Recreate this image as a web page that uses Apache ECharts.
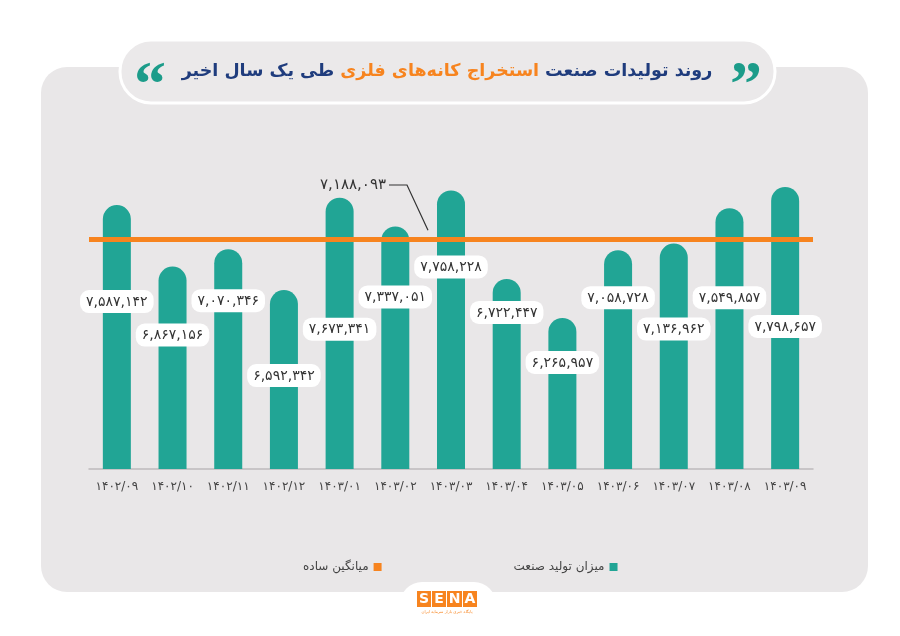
<!DOCTYPE html>
<html><head><meta charset="utf-8">
<script src="https://cdn.jsdelivr.net/npm/echarts@6/dist/echarts.min.js"></script>
<style>html,body{margin:0;padding:0;background:#fff;}#c{width:900px;height:636px;}</style>
</head><body><div id="c"></div>
<script>
const categories = ['۱۴۰۲/۰۹','۱۴۰۲/۱۰','۱۴۰۲/۱۱','۱۴۰۲/۱۲','۱۴۰۳/۰۱','۱۴۰۳/۰۲','۱۴۰۳/۰۳','۱۴۰۳/۰۴','۱۴۰۳/۰۵','۱۴۰۳/۰۶','۱۴۰۳/۰۷','۱۴۰۳/۰۸','۱۴۰۳/۰۹'];
const production = [7587142, 6867156, 7070346, 6592342, 7673341, 7337051, 7758228, 6722447, 6265957, 7058728, 7136962, 7549857, 7798657];
const averageValue = 7188093;
const seriesNames = ['میزان تولید صنعت', 'میانگین ساده'];
const titleParts = ['روند تولیدات صنعت', 'استخراج کانه‌های فلزی', 'طی یک سال اخیر'];

// label layout (style only)
const labelDistance = [85, 57, 40, 74, 120, 59, 65, 22, 33, 36, 74, 78, 128];

const FONT = 'DejaVu Sans';
const TEAL = '#21a595';
const ORANGE = '#f7841f';
const NAVY = '#1f3c7d';
const fa = s => String(s).replace(/\d/g, d => '۰۱۲۳۴۵۶۷۸۹'[d]);
const fmt = v => fa(Number(v).toLocaleString('en-US'));

const chart = echarts.init(document.getElementById('c'));
const option = {
  backgroundColor: '#ffffff',
  animation: false,
  grid: { left: 89, right: 87, top: 127, bottom: 167 },
  xAxis: {
    type: 'category', data: categories,
    axisLine: { lineStyle: { color: '#bdbbbc', width: 1.5 } },
    axisTick: { show: false },
    axisLabel: { color: '#444', fontSize: 12, fontFamily: FONT, margin: 12 }
  },
  yAxis: { type: 'value', min: 4500000, max: 8500000, show: false, splitLine: { show: false } },
  legend: {
    data: [{ name: seriesNames[1] }, { name: seriesNames[0] }],
    left: 298, top: 556, align: 'right', icon: 'rect', itemWidth: 8, itemHeight: 8, itemGap: 132,
    textStyle: { color: '#444', fontSize: 12, fontFamily: FONT }
  },
  series: [
    {
      name: seriesNames[0], type: 'bar', barWidth: 28, z: 3,
      itemStyle: { color: TEAL, borderRadius: [14, 14, 0, 0] },
      data: production.map((v, i) => ({
        value: v,
        label: { distance: labelDistance[i] }
      })),
      label: {
        show: true, position: 'insideTop', formatter: p => fmt(p.value),
        backgroundColor: '#fff', borderRadius: 9, padding: [5, 6, 4, 6],
        color: '#333', fontSize: 14, fontFamily: FONT
      }
    },
    {
      name: seriesNames[1], type: 'line', data: [], z: 4,
      itemStyle: { color: ORANGE }, lineStyle: { color: ORANGE },
      markLine: {
        symbol: 'none', silent: true,
        lineStyle: { color: ORANGE, width: 5, type: 'solid' },
        label: { show: false },
        data: [{ yAxis: averageValue }]
      }
    }
  ]
};
chart.setOption(option);

const lineY = chart.convertToPixel({ yAxisIndex: 0 }, averageValue);
chart.setOption({
  graphic: [
    { type: 'rect', z: -10, shape: { x: 41, y: 67, width: 827, height: 525, r: 26 }, style: { fill: '#e9e7e8' } },
    { type: 'rect', z: 10, shape: { x: 120, y: 40, width: 655, height: 63, r: 31 }, style: { fill: '#ebe9ea', stroke: '#ffffff', lineWidth: 3 } },
    { type: 'text', z: 11, x: 447, y: 71, style: {
        text: '{n|' + titleParts[2] + '}{g| }{o|' + titleParts[1] + '}{g| }{n|' + titleParts[0] + '}',
        align: 'center', verticalAlign: 'middle',
        rich: {
          n: { fontFamily: FONT, fontWeight: 'bold', fontSize: 17.5, fill: NAVY },
          o: { fontFamily: FONT, fontWeight: 'bold', fontSize: 17.5, fill: ORANGE },
          g: { fontFamily: FONT, fontSize: 17.5, width: 6 }
        } } },
    { type: 'text', z: 11, x: 746, y: 88, style: { text: '\u201D', fontFamily: 'Liberation Serif', fontWeight: 'bold', fontSize: 64, fill: '#1c9c8a', align: 'center', verticalAlign: 'middle' } },
    { type: 'text', z: 11, x: 150, y: 88, style: { text: '\u201C', fontFamily: 'Liberation Serif', fontWeight: 'bold', fontSize: 64, fill: '#1c9c8a', align: 'center', verticalAlign: 'middle' } },
    // average annotation
    { type: 'text', z: 12, x: 386, y: 185, style: { text: fmt(averageValue), fontFamily: FONT, fontSize: 15, fill: '#333', align: 'right', verticalAlign: 'middle' } },
    { type: 'polyline', z: 12, shape: { points: [[389, 185], [407, 185], [428, lineY - 9]] }, style: { stroke: '#333', lineWidth: 1.2, fill: null } },
    // logo
    { type: 'rect', z: -5, shape: { x: 400, y: 582, width: 96, height: 60, r: [22, 22, 0, 0] }, style: { fill: '#ffffff' } },
    { type: 'rect', z: -5, shape: { x: 0, y: 592, width: 900, height: 44 }, style: { fill: '#ffffff' } },
    { type: 'rect', z: 12, shape: { x: 417, y: 591, width: 14, height: 16 }, style: { fill: ORANGE } },
    { type: 'rect', z: 12, shape: { x: 432, y: 591, width: 14, height: 16 }, style: { fill: ORANGE } },
    { type: 'rect', z: 12, shape: { x: 447, y: 591, width: 15, height: 16 }, style: { fill: ORANGE } },
    { type: 'rect', z: 12, shape: { x: 463, y: 591, width: 14, height: 16 }, style: { fill: ORANGE } },
    { type: 'text', z: 13, x: 424, y: 599.5, style: { text: 'S', fontFamily: FONT, fontWeight: 'bold', fontSize: 14, fill: '#fff', align: 'center', verticalAlign: 'middle' } },
    { type: 'text', z: 13, x: 439, y: 599.5, style: { text: 'E', fontFamily: FONT, fontWeight: 'bold', fontSize: 14, fill: '#fff', align: 'center', verticalAlign: 'middle' } },
    { type: 'text', z: 13, x: 454.5, y: 599.5, style: { text: 'N', fontFamily: FONT, fontWeight: 'bold', fontSize: 14, fill: '#fff', align: 'center', verticalAlign: 'middle' } },
    { type: 'text', z: 13, x: 470, y: 599.5, style: { text: 'A', fontFamily: FONT, fontWeight: 'bold', fontSize: 14, fill: '#fff', align: 'center', verticalAlign: 'middle' } },
    { type: 'text', z: 13, x: 447, y: 612, style: { text: 'پایگاه خبری بازار سرمایه ایران', fontFamily: FONT, fontSize: 4, fill: ORANGE, align: 'center', verticalAlign: 'middle' } }
  ]
});
</script>
</body></html>
